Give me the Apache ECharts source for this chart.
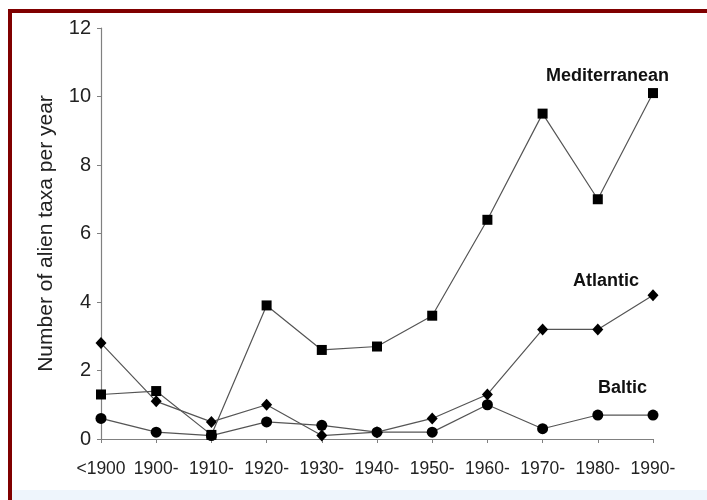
<!DOCTYPE html>
<html><head><meta charset="utf-8">
<script src="https://cdn.jsdelivr.net/npm/echarts@6/dist/echarts.min.js"></script>
<style>
html,body{margin:0;padding:0;background:#fff;}
#frame{position:absolute;left:0;top:0;width:707px;height:500px;}
#border-top{position:absolute;left:8px;top:9px;width:699px;height:4px;background:#800000;}
#border-left{position:absolute;left:8px;top:9px;width:4px;height:491px;background:#800000;}
#strip{position:absolute;left:12px;top:490px;width:695px;height:10px;background:#eef5fc;}
#chart{position:absolute;left:0;top:0;width:707px;height:500px;}
</style></head>
<body>
<div id="frame"><div id="chart"></div><div id="border-top"></div><div id="border-left"></div><div id="strip"></div></div>
<script>
const categories = ['<1900','1900-','1910-','1920-','1930-','1940-','1950-','1960-','1970-','1980-','1990-'];
const mediterranean = [1.3, 1.4, 0.12, 3.9, 2.6, 2.7, 3.6, 6.4, 9.5, 7.0, 10.1];
const atlantic = [2.8, 1.1, 0.5, 1.0, 0.1, 0.2, 0.6, 1.3, 3.2, 3.2, 4.2];
const baltic = [0.6, 0.2, 0.1, 0.5, 0.4, 0.2, 0.2, 1.0, 0.3, 0.7, 0.7];
const seriesNames = ['Mediterranean','Atlantic','Baltic'];
const yTicks = {min: 0, max: 12, interval: 2};

const chart = echarts.init(document.getElementById('chart'), null, {renderer: 'canvas'});
const lineStyle = {color: '#555', width: 1.2};
const font = 'Liberation Sans, Arial, sans-serif';
const labelFont = 'bold 18px Liberation Sans, Arial, sans-serif';
chart.setOption({
  animation: false,
  grid: {left: 101, right: 54, top: 28, bottom: 61},
  xAxis: {
    type: 'category', data: categories, boundaryGap: false,
    axisLine: {lineStyle: {color: '#808080', width: 1.2}},
    axisTick: {show: true, length: 4, lineStyle: {color: '#808080'}},
    axisLabel: {color: '#222', fontSize: 17.5, fontFamily: font, margin: 21, interval: 0}
  },
  yAxis: {
    type: 'value', min: yTicks.min, max: yTicks.max, interval: yTicks.interval,
    name: 'Number of alien taxa per year', nameLocation: 'middle', nameGap: 44,
    nameTextStyle: {color: '#222', fontSize: 21, fontFamily: font},
    splitLine: {show: false},
    axisLine: {show: true, lineStyle: {color: '#808080', width: 1.2}},
    axisTick: {show: true, length: 4, lineStyle: {color: '#808080'}},
    axisLabel: {color: '#222', fontSize: 20, fontFamily: font, margin: 10}
  },
  series: [
    {name: seriesNames[0], type: 'line', data: mediterranean, symbol: 'rect', symbolSize: 10,
     itemStyle: {color: '#000'}, lineStyle: lineStyle, z: 3},
    {name: seriesNames[1], type: 'line', data: atlantic, symbol: 'diamond', symbolSize: [11, 12],
     itemStyle: {color: '#000'}, lineStyle: lineStyle, z: 2},
    {name: seriesNames[2], type: 'line', data: baltic, symbol: 'circle', symbolSize: 11,
     itemStyle: {color: '#000'}, lineStyle: lineStyle, z: 1}
  ],
  graphic: [
    {type: 'text', left: 546, top: 67, style: {text: seriesNames[0], font: labelFont, fill: '#111'}},
    {type: 'text', left: 573, top: 272, style: {text: seriesNames[1], font: labelFont, fill: '#111'}},
    {type: 'text', left: 598, top: 379, style: {text: seriesNames[2], font: labelFont, fill: '#111'}}
  ]
});
</script>
</body></html>
